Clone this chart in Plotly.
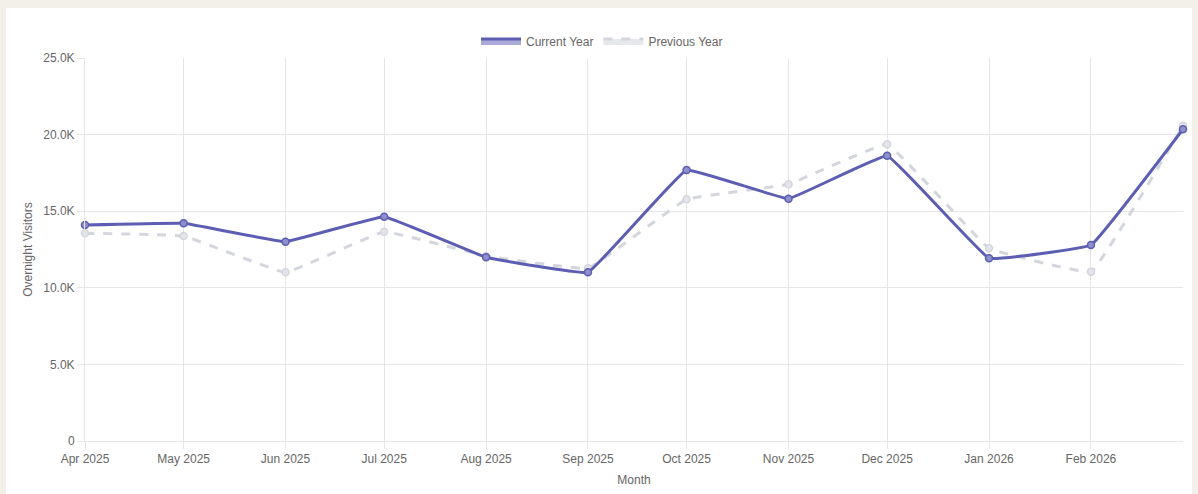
import plotly.graph_objects as go

months = ["2025-04-01", "2025-05-01", "2025-06-01", "2025-07-01", "2025-08-01", "2025-09-01",
          "2025-10-01", "2025-11-01", "2025-12-01", "2026-01-01", "2026-02-01", "2026-03-01"]
current_year = [14100, 14210, 13010, 14640, 11990, 11010, 17690, 15820, 18620, 11930, 12790, 20350]
previous_year = [13560, 13380, 11010, 13660, 12080, 11270, 15780, 16760, 19370, 12580, 11050, 20580]

x_tick_vals = months[:-1]
x_tick_text = ["Apr 2025", "May 2025", "Jun 2025", "Jul 2025", "Aug 2025", "Sep 2025",
               "Oct 2025", "Nov 2025", "Dec 2025", "Jan 2026", "Feb 2026"]
y_tick_vals = [0, 5000, 10000, 15000, 20000, 25000]
y_tick_text = ["0", "5.0K", "10.0K", "15.0K", "20.0K", "25.0K"]

FONT = "Liberation Sans, Arial, Helvetica, sans-serif"
GRID = "#e6e6e6"
CUR = "#5b5eb2"
PREV = "#d3d6dd"

fig = go.Figure()
fig.add_trace(go.Scatter(
    x=months, y=previous_year, name="Previous Year", mode="lines+markers", showlegend=False,
    line=dict(color=PREV, width=3, dash="dash", shape="spline", smoothing=0.2),
    marker=dict(size=7, color="#e3e5ea", line=dict(color=PREV, width=1.5)),
    cliponaxis=False,
))
fig.add_trace(go.Scatter(
    x=months, y=current_year, name="Current Year", mode="lines+markers", showlegend=False,
    line=dict(color=CUR, width=3, shape="spline", smoothing=0.2),
    marker=dict(size=7, color="#8e90cc", line=dict(color=CUR, width=1.5)),
    cliponaxis=False,
))
# legend entries (box style)
fig.add_trace(go.Scatter(
    x=[None], y=[None], name="Current Year", mode="lines", fill="toself",
    fillcolor="#aaabd8", line=dict(color=CUR, width=3), legendrank=1,
))
fig.add_trace(go.Scatter(
    x=[None], y=[None], name="Previous Year", mode="lines", fill="toself",
    fillcolor="#e6e8ec", line=dict(color=PREV, width=3, dash="dash"), legendrank=2,
))

W, H = 1198, 494
L, R, T, B = 85, 15, 58, 53
pw, ph = W - L - R, H - T - B

def px_x(p):
    return (p - L) / pw

def px_y(p):
    return (H - B - p) / ph

fig.add_shape(type="rect", xref="paper", yref="paper",
              x0=px_x(6), x1=px_x(1192), y0=px_y(520), y1=px_y(8),
              fillcolor="white", line=dict(width=0), layer="below")

fig.update_layout(
    width=W, height=H,
    margin=dict(l=L, r=R, t=T, b=B, autoexpand=False),
    paper_bgcolor="#f3f0e9",
    plot_bgcolor="white",
    font=dict(family=FONT, size=12, color="#666666"),
    legend=dict(orientation="h", x=px_x(602), xanchor="center", y=px_y(41), yanchor="middle",
                font=dict(size=12, color="#666666"),
                bgcolor="rgba(0,0,0,0)", itemwidth=40),
    showlegend=True,
)
fig.update_xaxes(
    type="date", range=[months[0], months[-1]],
    tickvals=x_tick_vals, ticktext=x_tick_text,
    showgrid=True, gridcolor=GRID, gridwidth=1,
    ticks="outside", ticklen=7, tickcolor=GRID,
    showline=True, linecolor=GRID, linewidth=1,
    tickfont=dict(size=12, color="#666666"),
    title=dict(text="Month", font=dict(size=12, color="#666666"), standoff=10),
    zeroline=False, automargin=False,
)
fig.update_yaxes(
    range=[0, 25000], tickvals=y_tick_vals, ticktext=y_tick_text,
    showgrid=True, gridcolor=GRID, gridwidth=1,
    ticks="outside", ticklen=7, tickcolor=GRID,
    showline=True, linecolor=GRID, linewidth=1,
    tickfont=dict(size=12, color="#666666"),
    title=dict(text="Overnight Visitors", font=dict(size=12, color="#666666"), standoff=8),
    zeroline=False, automargin=False,
)

fig.write_html("out.html", config={"displayModeBar": False},
               post_script="document.body.style.margin='0';document.body.style.overflow='hidden';")
